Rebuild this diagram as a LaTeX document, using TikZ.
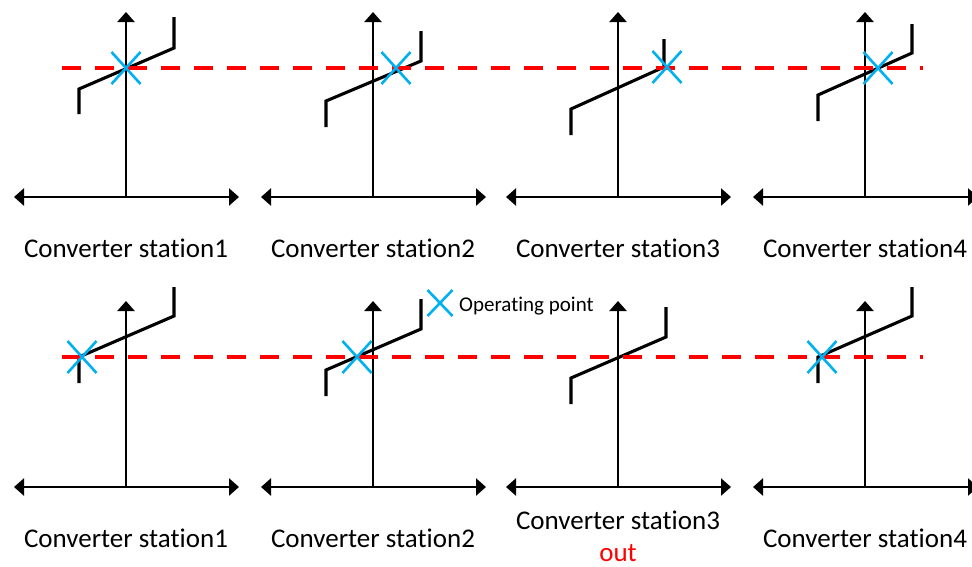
\documentclass[tikz,border=0pt]{standalone}
\usepackage{fontspec}
\setmainfont{Carlito}[Ligatures=NoCommon]
\usetikzlibrary{arrows.meta,shapes.misc}
\definecolor{opblue}{RGB}{0,176,240}
\definecolor{refred}{RGB}{255,0,0}
\begin{document}
\begin{tikzpicture}[x=1pt,y=-1pt,
  vaxis/.style={line width=2.7pt,-{Triangle[length=10pt,width=17pt]}},
  haxis/.style={line width=2.7pt,{Triangle[length=10pt,width=17pt]}-{Triangle[length=10pt,width=17pt]}},
  droop/.style={line width=3.1pt,line join=miter},
  refline/.style={refred,line width=3.1pt,dash pattern=on 19pt off 14pt},
  opx/.style={cross out,draw=opblue,line width=2.6pt,minimum width=29pt,minimum height=32pt,inner sep=0pt,outer sep=0pt},
  legx/.style={opx,minimum width=25pt,minimum height=26pt},
  lbl/.style={font=\fontsize{27}{32}\selectfont,anchor=base,inner sep=0pt},
  leglbl/.style={font=\fontsize{21}{25}\selectfont,anchor=base west,inner sep=0pt}
]
\useasboundingbox (0,0) rectangle (972,566);

% reference (dashed) lines
\coordinate (rtL) at (62,68);  \coordinate (rtR) at (923,68);
\coordinate (rbL) at (62,357); \coordinate (rbR) at (923,357);

% panels: name / axis x / axis y / tip y / curve y bottom / knee low / knee high / top / right x
\foreach \n/\xo/\ya/\yt/\ca/\cb/\cc/\cd/\xr in {
  t1/126/197/12/114/89/48/17/174,
  t2/373/197/12/127/101/61/31/421,
  t3/618/197/12/135/109/67/39/664,
  t4/865/197/12/121/95/53/24/912,
  b1/126/487/301/383/357/316/287/174,
  b2/373/487/301/396/370/329/299/421,
  b3/618/487/301/404/378/337/307/666,
  b4/865/487/301/383/357/316/287/912}{
  \coordinate (\n-o) at (\xo,\ya);
  \coordinate (\n-top) at (\xo,\yt);
  \coordinate (\n-l) at ({\xo-112},\ya);
  \coordinate (\n-r) at ({\xo+113},\ya);
  \coordinate (\n-c1) at ({\xo-47},\ca);
  \coordinate (\n-c2) at ({\xo-47},\cb);
  \coordinate (\n-c3) at (\xr,\cc);
  \coordinate (\n-c4) at (\xr,\cd);
  \draw[vaxis] (\n-o) -- (\n-top);
  \draw[haxis] (\n-l) -- (\n-r);
  \draw[droop] (\n-c1) -- (\n-c2) -- (\n-c3) -- (\n-c4);
}

\draw[refline] (rtL) -- (rtR);
\draw[refline] (rbL) -- (rbR);

% operating points
\node[opx] (opt1) at (126,68) {};
\node[opx] (opt2) at (396,68) {};
\node[opx] (opt3) at (667,67) {};
\node[opx] (opt4) at (878,68) {};
\node[opx] (opb1) at (82,357) {};
\node[opx] (opb2) at (357,357) {};
\node[opx] (opb4) at (822,357) {};

% legend
\node[legx] (legmark) at (440,303) {};
\node[leglbl] (legtext) at (459,311) {Operating point};

% labels
\node[lbl] (lt1) at (126,257) {Converter station1};
\node[lbl] (lt2) at (373,257) {Converter station2};
\node[lbl] (lt3) at (618,257) {Converter station3};
\node[lbl] (lt4) at (865,257) {Converter station4};
\node[lbl] (lb1) at (126,547) {Converter station1};
\node[lbl] (lb2) at (373,547) {Converter station2};
\node[lbl] (lb3) at (618,529) {Converter station3};
\node[lbl,text=refred] (lb3out) at (618,561) {out};
\node[lbl] (lb4) at (865,547) {Converter station4};
\end{tikzpicture}
\end{document}
